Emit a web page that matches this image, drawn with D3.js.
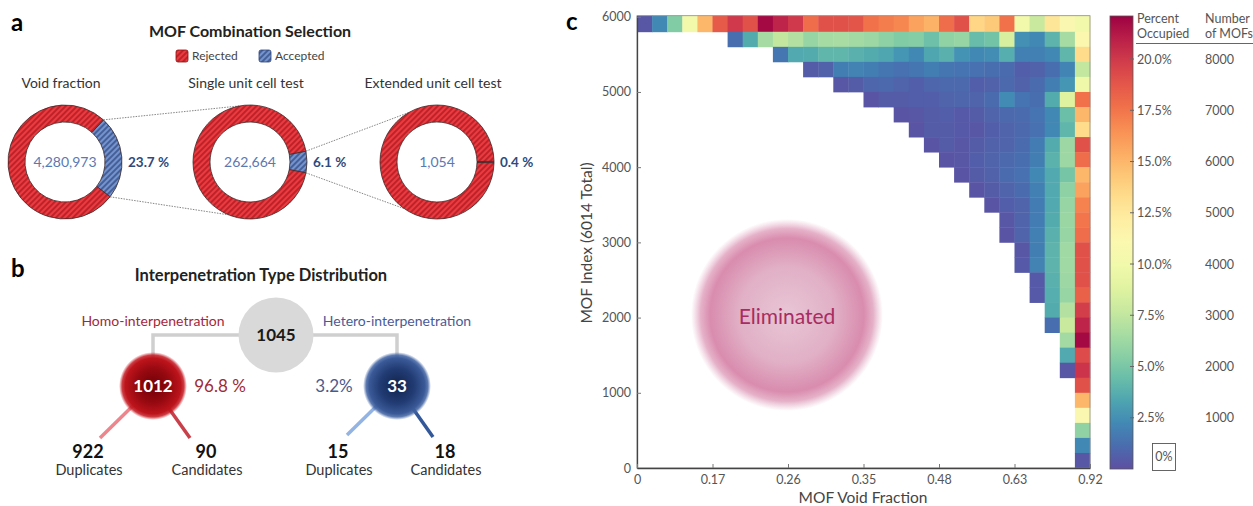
<!DOCTYPE html>
<html>
<head>
<meta charset="utf-8">
<script src="https://cdn.jsdelivr.net/npm/d3@7"></script>
<style>
  body { margin: 0; background: #fff; }
  svg { display: block; font-family: Lato, "Open Sans", sans-serif; }
</style>
</head>
<body>
<div id="chart"></div>
<script>
// ---- data ----
// panel a
const stageNames = ["Void fraction", "Single unit cell test", "Extended unit cell test"];
const stageTotals = ["4,280,973", "262,664", "1,054"];
const stageAccepted = [23.7, 6.1, 0.4];
const stageLabels = ["23.7 %", "6.1 %", "0.4 %"];
const legendNames = ["Rejected", "Accepted"];

// panel b
const totalInterp = 1045;
const branchNames = ["Homo-interpenetration", "Hetero-interpenetration"];
const branchCounts = [1012, 33];
const branchShares = ["96.8 %", "3.2%"];
const duplicateCounts = [922, 15];
const candidateCounts = [90, 18];

// panel c
const voidLabels = ["0", "0.17", "0.26", "0.35", "0.48", "0.63", "0.92"];
const indexTicks = [0, 1000, 2000, 3000, 4000, 5000, 6000];
const percentTicks = [2.5, 5, 7.5, 10, 12.5, 15, 17.5, 20];
const mofTicks = [1000, 2000, 3000, 4000, 5000, 6000, 7000, 8000];
// percent occupied, one row per 200 MOFs (top row first), right-aligned to the last void bin
const occupancy = [
  [0.3, 2.2, 5.3, 10, 15, 18.6, 20, 19, 21.8, 20.8, 20, 17.8, 19, 19, 18.8, 17.6, 17.2, 16.8, 15.8, 15.2, 17.8, 19, 13.6, 14.2, 17.6, 10, 7.8, 12.7, 11, 10],
  [1.2, 3.6, 6.5, 7.6, 7, 6, 6.5, 6.6, 6.4, 6.2, 5.7, 5.3, 5.4, 4.6, 5.8, 6, 4.4, 4.8, 8.4, 2.5, 2.2, 4.0, 6.5, 11.2],
  [1.5, 3.5, 3.6, 4.1, 4.1, 3.8, 3.6, 3.4, 2.7, 2.2, 3.4, 3.8, 2.6, 2.2, 2.4, 3.7, 1.9, 1.9, 2.2, 4.1, 13.3],
  [0.5, 0.7, 1.8, 2.0, 1.8, 1.5, 1.3, 1.5, 1.8, 1.5, 1.4, 1.3, 1.2, 1.1, 0.6, 0.7, 1.2, 2.1, 7.6],
  [0.3, 0.5, 0.9, 1.0, 0.8, 0.6, 0.9, 1.0, 1.0, 0.6, 0.7, 1.0, 0.7, 1.1, 1.8, 2.7, 9.7],
  [0.2, 0.5, 0.5, 0.6, 0.6, 0.8, 0.9, 0.8, 1.1, 2.3, 1.4, 1.2, 3.6, 8.7, 17.6],
  [0.2, 0.3, 0.5, 0.6, 0.4, 0.5, 0.8, 1.0, 1.1, 1.4, 2.2, 4.5, 15],
  [0.2, 0.5, 0.5, 0.4, 0.3, 0.6, 0.8, 1.0, 1.3, 2.2, 4.1, 13.3],
  [0.2, 0.5, 0.3, 0.5, 0.7, 0.8, 1.1, 1.7, 3.6, 6.2, 19],
  [0.2, 0.3, 0.6, 0.8, 1.0, 1.2, 1.8, 3.9, 6.2, 17.8],
  [0.2, 0.5, 0.7, 1.1, 1.3, 2.2, 3.5, 4.9, 15],
  [0.2, 0.5, 0.8, 1.1, 1.9, 3.5, 5.7, 15.8],
  [0.2, 0.6, 0.8, 1.7, 3.5, 6.0, 17],
  [0.3, 0.8, 1.7, 3.6, 6.1, 17.5],
  [0.2, 0.8, 1.9, 3.8, 6.0, 17.8],
  [0.3, 1.8, 4.0, 6.3, 19],
  [0.4, 2.0, 4.0, 6.3, 19],
  [0.4, 3.8, 6.2, 19],
  [0.4, 3.7, 6.0, 18.3],
  [3.6, 7.0, 19.8],
  [1.2, 7.8, 20.8],
  [6.4, 21.8],
  [3.5, 19.2],
  [0.3, 20.2],
  [19],
  [15],
  [11],
  [5.8],
  [2.2],
  [0.3]
];

// ---- svg ----
const width = 1253, height = 506;
const svg = d3.select("#chart").append("svg")
  .attr("width", width)
  .attr("height", height);
const defs = svg.append("defs");

// hatch fills for the donuts
function hatch(id, bg, fg) {
  const p = defs.append("pattern")
    .attr("id", id)
    .attr("patternUnits", "userSpaceOnUse")
    .attr("width", 4).attr("height", 4)
    .attr("patternTransform", "rotate(45)");
  p.append("rect").attr("width", 4).attr("height", 4).attr("fill", bg);
  p.append("line").attr("x1", 1).attr("y1", 0).attr("x2", 1).attr("y2", 4)
    .attr("stroke", fg).attr("stroke-width", 1.3);
}
hatch("hatchRed", "#ec3b40", "#a3161c");
hatch("hatchBlue", "#7494d0", "#2d4478");

// soft radial balls
function ball(id, stops) {
  const g = defs.append("radialGradient").attr("id", id);
  stops.forEach(s => g.append("stop").attr("offset", s[0]).attr("stop-color", s[1]).attr("stop-opacity", s[2] ?? 1));
}
ball("redBall", [[0, "#700008"], [0.5, "#960910"], [0.82, "#bd141c"], [0.91, "#c41a22", 0.85], [1, "#d03038", 0]]);
ball("blueBall", [[0, "#11234b"], [0.5, "#213b73"], [0.82, "#3a5997"], [0.91, "#4063a2", 0.85], [1, "#5070b0", 0]]);
ball("elimBall", [[0, "#e8c6d5"], [0.5, "#e1b0c6"], [0.8, "#d98cae"], [0.9, "#da90b1", 0.7], [1, "#e0a0bd", 0]]);

// =========== panel a ===========
svg.append("text").attr("x", 11).attr("y", 31)
  .style("font-size", "24px").style("font-weight", "bold").text("a");
svg.append("text").attr("x", 250).attr("y", 37).attr("text-anchor", "middle")
  .style("font-size", "16px").style("font-weight", "bold").attr("fill", "#222")
  .text("MOF Combination Selection");

// legend
const legendX = [176, 259];
legendNames.forEach((name, i) => {
  svg.append("rect").attr("x", legendX[i]).attr("y", 50).attr("width", 12).attr("height", 12)
    .attr("rx", 2).attr("fill", i === 0 ? "url(#hatchRed)" : "url(#hatchBlue)")
    .attr("stroke", i === 0 ? "#8a1010" : "#2d4478").attr("stroke-width", 0.8);
  svg.append("text").attr("x", legendX[i] + 16).attr("y", 60)
    .style("font-size", "12px").attr("fill", "#444").text(name);
});

const donutX = [65, 250, 437], donutY = 162, rOut = 57, rIn = 40;
const donutMid = [85, 90, 90].map(d => d * Math.PI / 180);
const arc = d3.arc().innerRadius(rIn).outerRadius(rOut);
const linkTargets = [null, [-10, 202], [-30, 215]];

stageNames.forEach((name, i) => {
  const span = stageAccepted[i] / 100 * 2 * Math.PI;
  const a0 = donutMid[i] - span / 2;
  const pie = d3.pie().sort(null).startAngle(a0).endAngle(a0 + 2 * Math.PI);
  const slices = pie([stageAccepted[i], 100 - stageAccepted[i]]);
  const g = svg.append("g").attr("transform", `translate(${donutX[i]},${donutY})`);
  g.selectAll("path").data(slices).enter().append("path")
    .attr("d", arc)
    .attr("fill", (d, k) => k === 0 ? "url(#hatchBlue)" : "url(#hatchRed)")
    .attr("stroke", "#3b2a2a").attr("stroke-width", 0.8);

  svg.append("text").attr("x", donutX[i] - 4).attr("y", 88).attr("text-anchor", "middle")
    .style("font-size", "14px").attr("fill", "#333").text(name);
  svg.append("text").attr("x", donutX[i]).attr("y", donutY + 5).attr("text-anchor", "middle")
    .style("font-size", "14px").attr("fill", "#5a79b2").text(stageTotals[i]);
  svg.append("text").attr("x", donutX[i] + 63).attr("y", donutY + 5)
    .style("font-size", "13.5px").style("font-weight", "bold").attr("fill", "#2e4a7c").text(stageLabels[i]);

  // dotted links from the accepted slice to the next stage
  if (i < stageNames.length - 1) {
    const t = linkTargets[i + 1].map(d => d * Math.PI / 180);
    [slices[0].startAngle, slices[0].endAngle].forEach((a, k) => {
      svg.append("line")
        .attr("x1", donutX[i] + rOut * Math.sin(a)).attr("y1", donutY - rOut * Math.cos(a))
        .attr("x2", donutX[i + 1] + rOut * Math.sin(t[k])).attr("y2", donutY - rOut * Math.cos(t[k]))
        .attr("stroke", "#777").attr("stroke-width", 0.9).attr("stroke-dasharray", "1.5,1.2");
    });
  }
});

// =========== panel b ===========
svg.append("text").attr("x", 11).attr("y", 277)
  .style("font-size", "24px").style("font-weight", "bold").text("b");
svg.append("text").attr("x", 261).attr("y", 281).attr("text-anchor", "middle")
  .style("font-size", "16.5px").style("font-weight", "bold").attr("fill", "#222")
  .text("Interpenetration Type Distribution");

const hubX = 276, hubY = 335, branchX = [153, 397], branchY = 386;
// bracket
svg.append("path")
  .attr("d", `M${branchX[0]},358 V${hubY} H${hubX} M${hubX},${hubY} H${branchX[1]} V358`)
  .attr("fill", "none").attr("stroke", "#cfcfcf").attr("stroke-width", 3.5);
svg.append("circle").attr("cx", hubX).attr("cy", hubY).attr("r", 37.5).attr("fill", "#d9d9d9");
svg.append("text").attr("x", hubX).attr("y", hubY + 6).attr("text-anchor", "middle")
  .style("font-size", "17px").style("font-weight", "bold").attr("fill", "#1a1a1a").text(totalInterp);

const branchColor = ["#a3283a", "#4a5a98"];
const legColors = [["#ec858c", "#c9404a"], ["#93b3e3", "#33589a"]];
const legEnds = [[[100, 438], [190, 438]], [[347, 435], [433, 437]]];
const textX = [[88, 206], [338, 445]];
const shareX = [220, 334];

branchNames.forEach((name, i) => {
  svg.append("text").attr("x", branchX[i]).attr("y", 326).attr("text-anchor", "middle")
    .style("font-size", "14px").attr("fill", branchColor[i]).text(name);

  legEnds[i].forEach((e, k) => {
    const dx = e[0] - branchX[i], dy = e[1] - branchY, len = Math.hypot(dx, dy);
    svg.append("line")
      .attr("x1", branchX[i] + dx / len * 26).attr("y1", branchY + dy / len * 26)
      .attr("x2", e[0]).attr("y2", e[1])
      .attr("stroke", legColors[i][k]).attr("stroke-width", 3.5);
  });

  svg.append("circle").attr("cx", branchX[i]).attr("cy", branchY).attr("r", 34)
    .attr("fill", i === 0 ? "url(#redBall)" : "url(#blueBall)");
  svg.append("text").attr("x", branchX[i]).attr("y", branchY + 6).attr("text-anchor", "middle")
    .style("font-size", "17px").style("font-weight", "bold").attr("fill", "#fff").text(branchCounts[i]);
  svg.append("text").attr("x", shareX[i]).attr("y", branchY + 6).attr("text-anchor", "middle")
    .style("font-size", "17px").attr("fill", i === 0 ? "#a02a33" : "#4a5a8c").text(branchShares[i]);

  [duplicateCounts[i], candidateCounts[i]].forEach((n, k) => {
    svg.append("text").attr("x", textX[i][k]).attr("y", 458).attr("text-anchor", "middle")
      .style("font-size", "18px").style("font-weight", "bold").attr("fill", "#111").text(n);
    svg.append("text").attr("x", textX[i][k] + 1).attr("y", 475).attr("text-anchor", "middle")
      .style("font-size", "14.5px").attr("fill", "#333").text(k === 0 ? "Duplicates" : "Candidates");
  });
});

// =========== panel c ===========
svg.append("text").attr("x", 566).attr("y", 30)
  .style("font-size", "24px").style("font-weight", "bold").text("c");

const nCols = 30, binSize = 200, totalMofs = 6014, cMax = 22.1;
const x = d3.scaleLinear().domain([0, nCols]).range([637, 1090]);
const y = d3.scaleLinear().domain([0, totalMofs]).range([468, 15.7]);
const color = d3.scaleSequential(t => d3.interpolateSpectral(1 - t)).domain([0, cMax]);

// elimination blob
svg.append("circle").attr("cx", 787).attr("cy", 315).attr("r", 96).attr("fill", "url(#elimBall)");
svg.append("text").attr("x", 787).attr("y", 324).attr("text-anchor", "middle")
  .style("font-size", "21px").attr("fill", "#a82c62").text("Eliminated");

const cells = [];
occupancy.forEach((row, i) => {
  const r = occupancy.length - 1 - i;
  row.forEach((v, j) => cells.push({ col: nCols - row.length + j, lo: r * binSize, hi: i === 0 ? totalMofs : (r + 1) * binSize, v }));
});
svg.append("g").selectAll("rect").data(cells).enter().append("rect")
  .attr("x", d => x(d.col))
  .attr("y", d => y(d.hi))
  .attr("width", d => x(d.col + 1) - x(d.col) + 0.4)
  .attr("height", d => y(d.lo) - y(d.hi) + 0.4)
  .attr("fill", d => color(d.v));

// frame
svg.append("rect").attr("x", x(0)).attr("y", y(totalMofs)).attr("width", x(nCols) - x(0))
  .attr("height", y(0) - y(totalMofs)).attr("fill", "none").attr("stroke", "#8a8a8a").attr("stroke-width", 0.8);

const yAxis = svg.append("g").attr("transform", `translate(${x(0)},0)`)
  .call(d3.axisLeft(y).tickValues(indexTicks).tickFormat(d3.format("d"))
    .tickSizeInner(-4).tickSizeOuter(0).tickPadding(6));
const xAxis = svg.append("g").attr("transform", `translate(0,${y(0)})`)
  .call(d3.axisBottom(x).tickValues(d3.range(0, nCols + 1, 5)).tickFormat((d, i) => voidLabels[i])
    .tickSizeInner(-4).tickSizeOuter(0).tickPadding(7));
[xAxis, yAxis].forEach(ax => {
  ax.select(".domain").attr("stroke", "#444").attr("stroke-width", 1.3);
  ax.selectAll(".tick line").attr("stroke", "#777");
  ax.selectAll(".tick text").attr("fill", "#555").style("font-size", "12.5px").style("font-family", "Lato, sans-serif");
});

svg.append("text").attr("transform", "translate(592,243) rotate(-90)").attr("text-anchor", "middle")
  .style("font-size", "15.5px").attr("fill", "#444").text("MOF Index (6014 Total)");
svg.append("text").attr("x", 863).attr("y", 503).attr("text-anchor", "middle")
  .style("font-size", "15.5px").attr("fill", "#444").text("MOF Void Fraction");

// colorbar
const cb = { x: 1110, w: 23, top: 16, bottom: 469 };
const pctScale = d3.scaleLinear().domain([0, cMax]).range([cb.bottom, cb.top]);
const mofScale = d3.scaleLinear().domain([0, cMax / 2.5 * 1000]).range([cb.bottom, cb.top]);
const grad = defs.append("linearGradient").attr("id", "cbar")
  .attr("x1", 0).attr("y1", 1).attr("x2", 0).attr("y2", 0);
d3.range(0, 1.001, 0.05).forEach(t => grad.append("stop").attr("offset", t).attr("stop-color", color(t * cMax)));
svg.append("rect").attr("x", cb.x).attr("y", cb.top).attr("width", cb.w).attr("height", cb.bottom - cb.top)
  .attr("fill", "url(#cbar)").attr("stroke", "#555").attr("stroke-width", 0.8);

percentTicks.forEach(p => {
  svg.append("line").attr("x1", cb.x + cb.w - 3).attr("x2", cb.x + cb.w + 1)
    .attr("y1", pctScale(p)).attr("y2", pctScale(p)).attr("stroke", "#666");
  svg.append("text").attr("x", cb.x + cb.w + 4).attr("y", pctScale(p) + 4.5)
    .style("font-size", "12.5px").attr("fill", "#555").text(p.toFixed(1) + "%");
});
mofTicks.forEach(m => {
  svg.append("text").attr("x", 1205).attr("y", mofScale(m) + 4.5)
    .style("font-size", "12.5px").attr("fill", "#555").text(m);
});

[["Percent", "Occupied", 1137], ["Number", "of MOFs", 1205]].forEach(h => {
  svg.append("text").attr("x", h[2]).attr("y", 23).style("font-size", "12.5px").attr("fill", "#555").text(h[0]);
  svg.append("text").attr("x", h[2]).attr("y", 38).style("font-size", "12.5px").attr("fill", "#555").text(h[1]);
});
svg.append("line").attr("x1", 1136).attr("x2", 1253).attr("y1", 43.5).attr("y2", 43.5)
  .attr("stroke", "#555").attr("stroke-width", 0.9);

svg.append("rect").attr("x", 1152.5).attr("y", 443.5).attr("width", 23).attr("height", 27)
  .attr("fill", "none").attr("stroke", "#555").attr("stroke-width", 0.9);
svg.append("text").attr("x", 1164).attr("y", 461).attr("text-anchor", "middle")
  .style("font-size", "12.5px").attr("fill", "#555").text("0%");
</script>
</body>
</html>
